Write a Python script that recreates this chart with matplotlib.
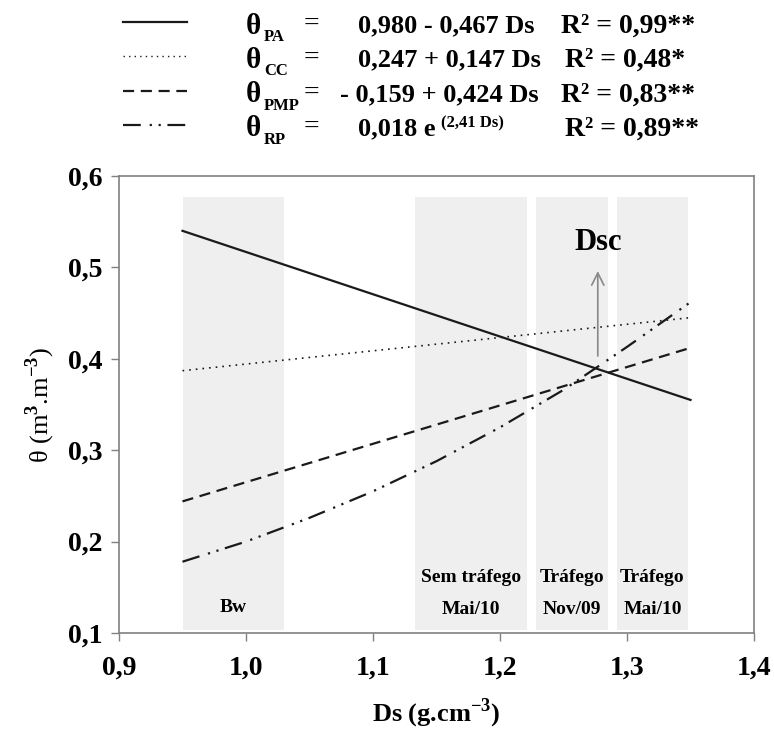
import matplotlib
matplotlib.use("Agg")
from matplotlib import pyplot as plt
from matplotlib.lines import Line2D

plt.rcParams['font.family'] = ['Liberation Serif', 'DejaVu Serif']
plt.rcParams['font.weight'] = 'bold'
plt.rcParams['mathtext.fontset'] = 'custom'
plt.rcParams['mathtext.rm'] = 'Liberation Serif'
plt.rcParams['mathtext.bf'] = 'Liberation Serif:bold'

# Values (Ds in g.cm-3, theta in m3.m-3)
ds_line = [0.95, 1.35]
theta_pa = [0.540, 0.355]
theta_cc = [0.387, 0.445]
theta_pmp = [0.244, 0.412]
ds_rp = [0.95, 1.00, 1.05, 1.10, 1.15, 1.20, 1.25, 1.30, 1.35]
theta_rp = [0.178, 0.200, 0.226, 0.255, 0.288, 0.325, 0.366, 0.413, 0.462]

# Shaded zones
zones_start = [0.95, 1.133, 1.228, 1.292]
zones_end = [1.03, 1.221, 1.285, 1.348]
zones_labels = ['Bw', 'Sem tráfego\n\nMai/10', 'Tráfego\n\nNov/09', 'Tráfego\n\nMai/10']

dsc = 1.277

legend_styles = ['-', (0, (1, 3)), (0, (5, 3)), (0, (8, 4, 1, 3, 1, 3))]
legend_sub = ['PA', 'CC', 'PMP', 'RP']
legend_eq = ['0,980 - 0,467 Ds', '0,247 + 0,147 Ds', '- 0,159 + 0,424 Ds', '0,018 e']
legend_r2 = ['R² = 0,99**', 'R² = 0,48*', 'R² = 0,83**', 'R² = 0,89**']

W, H = 774, 735
fig = plt.figure(figsize=(W / 100, H / 100), dpi=100)
ax = fig.add_axes([119 / W, 1 - 633 / H, (754 - 119) / W, (633 - 176) / H])

line_col = '#1a1a1a'
for x0, x1 in zip(zones_start, zones_end):
    ax.axvspan(x0, x1, ymin=0.006, ymax=0.954, color='#efefef', lw=0, zorder=0)

ax.plot(ds_line, theta_pa, color=line_col, lw=1.6, ls=legend_styles[0])
ax.plot(ds_line, theta_cc, color=line_col, lw=1.2, ls=legend_styles[1])
ax.plot(ds_line, theta_pmp, color=line_col, lw=1.6, ls=legend_styles[2])
ax.plot(ds_rp, theta_rp, color=line_col, lw=1.6, ls=legend_styles[3])

# zone labels
for x0, x1, lab in zip(zones_start, zones_end, zones_labels):
    y = 0.128 if lab == 'Bw' else 0.143
    ax.text((x0 + x1) / 2, y, lab, ha='center', va='center', fontsize=14,
            linespacing=0.9)

# Dsc arrow
ax.annotate('', xy=(dsc, 0.499), xytext=(dsc, 0.400),
            arrowprops=dict(arrowstyle='->', color='#888888', lw=1.2,
                            mutation_scale=22))
ax.text(dsc, 0.527, 'Dsc', ha='center', va='center', fontsize=22)

ax.set_xlim(0.9, 1.4)
ax.set_ylim(0.1, 0.6)
ax.set_xticks([0.9, 1.0, 1.1, 1.2, 1.3, 1.4])
ax.set_yticks([0.1, 0.2, 0.3, 0.4, 0.5, 0.6])
ax.set_xticklabels(['0,9', '1,0', '1,1', '1,2', '1,3', '1,4'])
ax.set_yticklabels(['0,1', '0,2', '0,3', '0,4', '0,5', '0,6'])
ax.tick_params(axis='both', direction='out', length=6, width=1, color='#808080',
               labelsize=20)
ax.tick_params(axis='x', pad=10)
ax.tick_params(axis='y', pad=6)
for sp in ax.spines.values():
    sp.set_color('#808080')
    sp.set_linewidth(1.2)

ax.set_xlabel(r'Ds (g.cm$^{\mathbf{-3}}$)', fontsize=19, fontweight='bold', labelpad=12)
ax.set_ylabel(r'θ (m$^{3}$.m$^{-3}$)', fontsize=19, fontweight='normal', labelpad=8)

# legend drawn at the top of the figure
def fx(px):
    return px / W

def fy(py):
    return 1 - py / H

row_y = [26, 60, 95, 129]
eq_texts = []
for i in range(4):
    yc = row_y[i]
    fig.add_artist(Line2D([fx(123), fx(187)], [fy(yc - 4), fy(yc - 4)],
                          transform=fig.transFigure, color=line_col,
                          lw=1.6 if i != 1 else 1.0, ls=legend_styles[i]))
    fig.text(fx(246), fy(yc), 'θ', fontsize=21, ha='left', va='center')
    fig.text(fx(264), fy(yc + 11), legend_sub[i], fontsize=12, ha='left', va='center')
    fig.text(fx(311), fy(yc - 2), '=', fontsize=20, ha='center', va='center',
             fontweight='normal')
    eq_x = 340 if i == 2 else 358
    eq_texts.append(fig.text(fx(eq_x), fy(yc), legend_eq[i], fontsize=19,
                             ha='left', va='center'))
    r2_x = 561 if i in (0, 2) else 565
    fig.text(fx(r2_x), fy(yc), legend_r2[i], fontsize=20, ha='left', va='center')

# exponent placed just after "0,018 e"
ax.annotate('(2,41 Ds)', xy=(1, 0.75), xycoords=eq_texts[3], xytext=(4, 0),
            textcoords='offset points', fontsize=12, ha='left', va='center',
            annotation_clip=False)

plt.savefig('out.png', dpi=100)
